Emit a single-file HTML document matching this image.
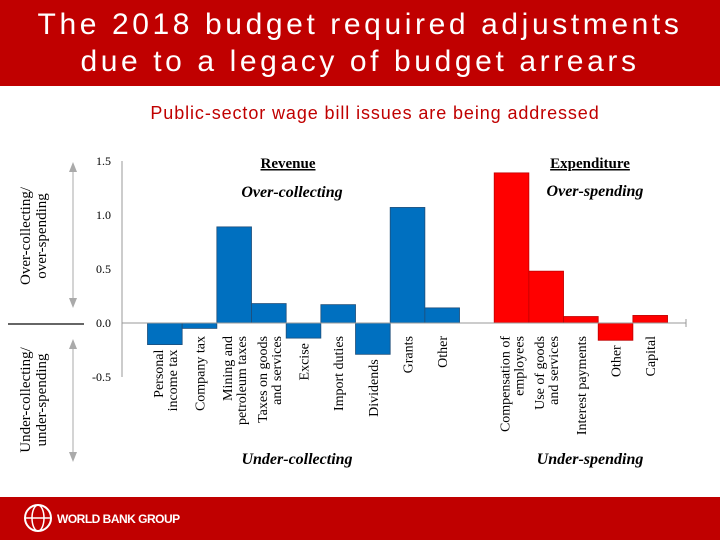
<!DOCTYPE html>
<html><head><meta charset="utf-8"><style>
body{margin:0;width:720px;height:540px;overflow:hidden;background:#fff;font-family:"Liberation Sans",sans-serif}
#hdr{position:absolute;left:0;top:0;width:720px;height:86px;background:#c00000;color:#fff;text-align:center;font-size:30px;line-height:37px;letter-spacing:3.6px;padding-top:6px;box-sizing:border-box;white-space:nowrap}
#sub{position:absolute;left:0;top:103px;width:750px;text-align:center;color:#c00000;font-size:18px;letter-spacing:0.9px}
#ftr{position:absolute;left:0;top:497px;width:720px;height:43px;background:#c00000}
</style></head><body>
<div id="hdr">The 2018 budget required adjustments<br>due to a legacy of budget arrears</div>
<div id="sub">Public-sector wage bill issues are being addressed</div>
<svg id="chart" style="position:absolute;left:0;top:0" width="720" height="540" font-family="'Liberation Serif',serif"></svg>
<div id="ftr">
<svg width="200" height="43"><circle cx="38" cy="21" r="13" fill="none" stroke="#fff" stroke-width="2"/><ellipse cx="38" cy="21" rx="6" ry="13" fill="none" stroke="#fff" stroke-width="1.5"/><line x1="25" y1="21" x2="51" y2="21" stroke="#fff" stroke-width="1.5"/><text x="57" y="26" fill="#fff" font-family="'Liberation Sans',sans-serif" font-weight="bold" font-size="12" letter-spacing="-0.5">WORLD BANK GROUP</text></svg>
</div>
<script>
const categories=["Personal|income tax","Company tax","Mining and|petroleum taxes","Taxes on goods|and services","Excise","Import duties","Dividends","Grants","Other","","Compensation of|employees","Use of goods|and services","Interest payments","Other","Capital"];
const values=[-0.2,-0.05,0.89,0.18,-0.14,0.17,-0.29,1.07,0.14,null,1.39,0.48,0.06,-0.16,0.07];
const groups=["rev","rev","rev","rev","rev","rev","rev","rev","rev","","exp","exp","exp","exp","exp"];
const ticks=[1.5,1.0,0.5,0.0,-0.5];
const NS="http://www.w3.org/2000/svg",svg=document.getElementById('chart');
const y=v=>323-v*108, x0=147.5, bw=34.67, x=i=>x0+i*bw;
function el(t,a,txt){const e=document.createElementNS(NS,t);for(const k in a)e.setAttribute(k,a[k]);if(txt!=null)e.textContent=txt;svg.appendChild(e);return e;}
let e=el('line',{x1:122,y1:y(1.5),x2:122,y2:y(-0.5),stroke:'#999'});

ticks.forEach(t=>{let l=el('text',{x:111,y:y(t)+4,'text-anchor':'end','font-size':12},t.toFixed(1));
});
values.forEach((v,i)=>{if(v==null)return;
let r=el('rect',{x:x(i),y:Math.min(y(v),y(0)),width:bw,height:Math.abs(y(v)-y(0)),fill:groups[i]=='rev'?'#0070c0':'#ff0000',stroke:groups[i]=='rev'?'#1f4e79':'#c00000','stroke-width':0.8});


const lines=categories[i].split('|'),cx=x(i)+bw/2;
const top=Math.max(336,y(Math.min(v,0))+5);
lines.forEach((s,j)=>{const lx=cx+(j-(lines.length-1)/2)*14+5;
let t=el('text',{x:lx,y:top,'text-anchor':'end','font-size':14,transform:`rotate(-90 ${lx} ${top})`},s);
});
});
e=el('line',{x1:122,y1:y(0),x2:686,y2:y(0),stroke:'#999'});

el('line',{x1:686,y1:y(0)-4,x2:686,y2:y(0)+4,stroke:'#999'});
function ann(txt,xx,yy,st,name){let t=el('text',Object.assign({x:xx,y:yy,'text-anchor':'middle','font-size':16,'font-weight':'bold'},st),txt);}
ann('Revenue',288,168,{'text-decoration':'underline','font-size':15},'revenue-heading');
ann('Expenditure',590,168,{'text-decoration':'underline','font-size':15},'expenditure-heading');
ann('Over-collecting',292,197,{'font-style':'italic'},'over-collecting-note');
ann('Over-spending',595,196,{'font-style':'italic'},'over-spending-note');
ann('Under-collecting',297,464,{'font-style':'italic'},'under-collecting-note');
ann('Under-spending',590,464,{'font-style':'italic'},'under-spending-note');
function ylab(l1,l2,cy,name){let t=el('text',{x:0,y:0,'text-anchor':'middle','font-size':15,transform:`translate(30 ${cy}) rotate(-90)`});
t.innerHTML=`<tspan x="0" dy="0">${l1}</tspan><tspan x="0" dy="16">${l2}</tspan>`;}
ylab('Over-collecting/','over-spending',236,'y-axis-title-upper');
ylab('Under-collecting/','under-spending',400,'y-axis-title-lower');
el('line',{x1:8,y1:324,x2:84,y2:324,stroke:'#333','stroke-width':1.5});
el('line',{x1:73,y1:168,x2:73,y2:302,stroke:'#aaa'});el('path',{d:'M69 172 L73 162 L77 172Z',fill:'#aaa'});el('path',{d:'M69 298 L73 308 L77 298Z',fill:'#aaa'});
el('line',{x1:73,y1:345,x2:73,y2:456,stroke:'#aaa'});el('path',{d:'M69 349 L73 339 L77 349Z',fill:'#aaa'});el('path',{d:'M69 452 L73 462 L77 452Z',fill:'#aaa'});
</script>
</body></html>
